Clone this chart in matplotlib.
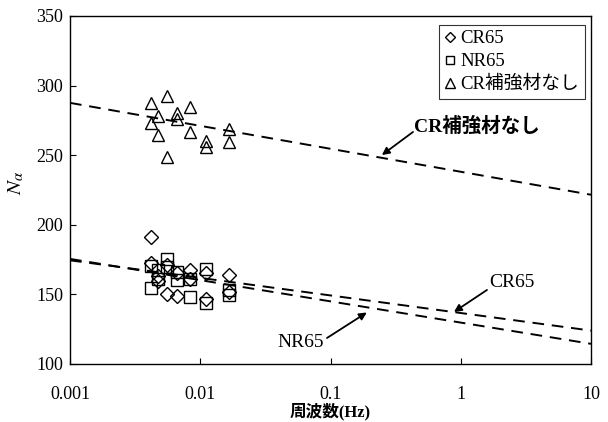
import matplotlib
matplotlib.use("Agg")
import matplotlib.pyplot as plt
import numpy as np

plt.rcParams["font.family"] = ["Liberation Serif", "Noto Sans CJK JP"]
plt.rcParams["mathtext.fontset"] = "stix"

# loading frequencies (periods 240, 210, 180, 150, 120, 90, 60 s), two tests each
freq = [0.00417, 0.00417, 0.00476, 0.00476, 0.00556, 0.00556, 0.00667, 0.00667,
        0.00833, 0.00833, 0.0111, 0.0111, 0.0167, 0.0167]

cr65 = [191.5, 172.8, 163.2, 159.9, 171.1, 150.3, 165.2, 148.9,
        167.5, 160.8, 165.2, 146.5, 163.9, 152.0]
nr65 = [170.4, 154.4, 167.5, 160.8, 175.5, 170.0, 166.0, 160.4,
        160.8, 148.4, 168.0, 144.1, 153.0, 149.5]
cr_none = [287.3, 272.9, 278.2, 264.5, 292.5, 248.5, 280.1, 275.8,
           284.4, 266.4, 260.4, 255.7, 268.6, 259.7]

# regression lines, values at the ends of the frequency range
fit_f = [0.001, 10]
fit_cr65 = [174.5, 124.0]
fit_nr65 = [175.5, 114.5]
fit_cr_none = [287.6, 221.6]

xticks = [0.001, 0.01, 0.1, 1, 10]
xticklabels = ["0.001", "0.01", "0.1", "1", "10"]
yticks = [100, 150, 200, 250, 300, 350]

fig = plt.figure(figsize=(6.08, 4.22), dpi=100)
ax = fig.add_axes([70 / 608, 1 - 364 / 422, 521 / 608, 348 / 422])

mk = dict(linestyle="none", mfc="none", mec="black", mew=1.0)
ax.plot(freq, cr65, marker="D", ms=7, label="CR65", **mk)
ax.plot(freq, nr65, marker="s", ms=8, label="NR65", **mk)
ax.plot(freq, cr_none, marker="^", ms=9, label="CR補強材なし", **mk)

ls = dict(color="black", lw=1.4, dashes=(6, 4))
ax.plot(fit_f, fit_cr65, **ls)
ax.plot(fit_f, fit_nr65, **ls)
ax.plot(fit_f, fit_cr_none, **ls)

arrow = dict(arrowstyle="-|>", color="black", lw=1.3, mutation_scale=11,
             shrinkA=0, shrinkB=0)
ax.annotate("", xy=(0.248, 250.1), xytext=(0.43, 266.7), arrowprops=arrow)
ax.text(1.33, 271, "CR補強材なし", fontsize=14, ha="center", va="center",
        fontweight="bold")
ax.annotate("", xy=(0.887, 137.4), xytext=(1.59, 153.2), arrowprops=arrow)
ax.text(2.48, 158.9, "CR65", fontsize=14, ha="center", va="center")
ax.annotate("", xy=(0.19, 137.0), xytext=(0.094, 118.7), arrowprops=arrow)
ax.text(0.0594, 115.8, "NR65", fontsize=14, ha="center", va="center")

ax.set_xscale("log")
ax.set_xlim(0.001, 10)
ax.set_ylim(100, 350)
ax.set_xticks(xticks)
ax.set_xticklabels(xticklabels)
ax.set_yticks(yticks)
ax.xaxis.set_minor_locator(matplotlib.ticker.NullLocator())
ax.tick_params(direction="in", length=4, width=0.8, labelsize=13)
ax.tick_params(axis="x", pad=16)
ax.tick_params(axis="y", pad=5)
for s in ax.spines.values():
    s.set_linewidth(1.0)

ax.set_xlabel("周波数(Hz)", fontsize=12, labelpad=0, fontweight="bold")
ax.set_ylabel(r"$N_\alpha$", fontsize=15)
ax.yaxis.set_label_coords(-0.083, 0.52)

leg = ax.legend(loc="upper right", bbox_to_anchor=(0.988, 0.975), fontsize=13.5,
                frameon=True, fancybox=False, edgecolor="black",
                handlelength=0.6, handletextpad=0.25, borderpad=0.3,
                labelspacing=0.3, markerscale=0.8, borderaxespad=0)
leg.get_frame().set_linewidth(0.8)

fig.savefig("out.png", dpi=100)
